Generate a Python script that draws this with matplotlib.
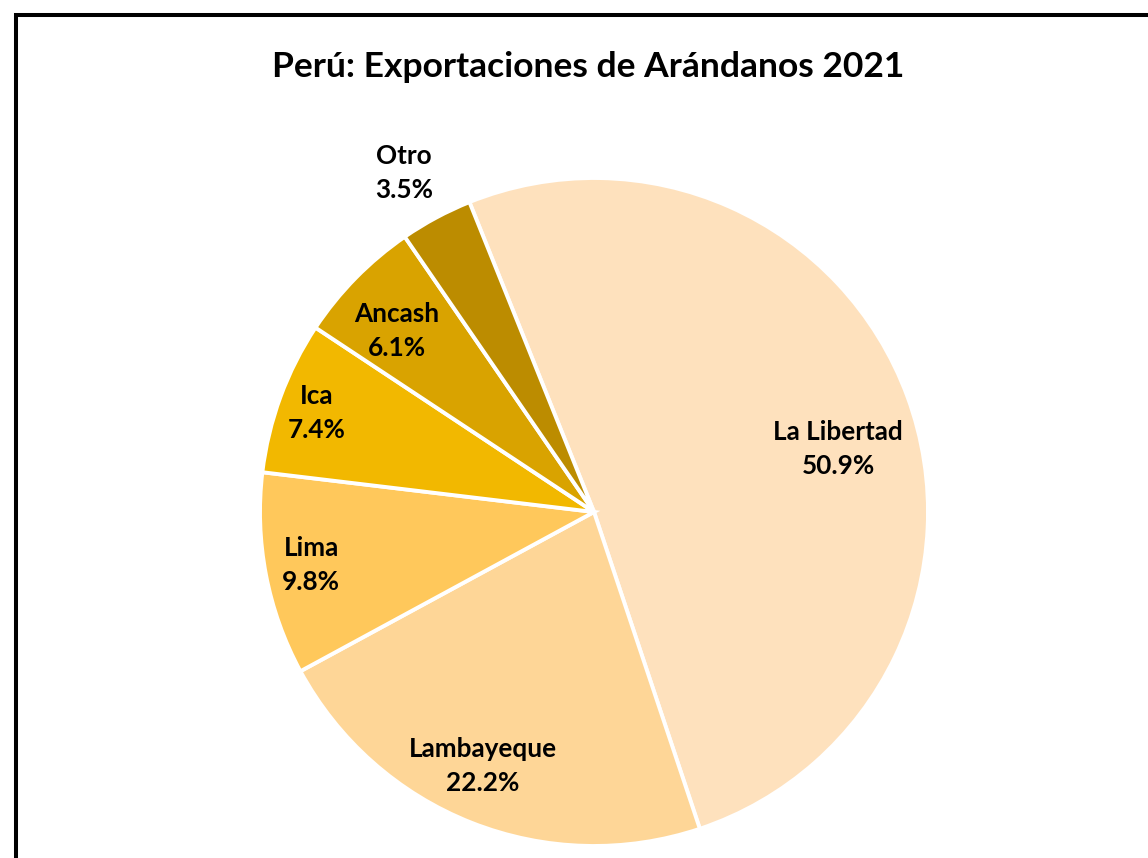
import matplotlib.pyplot as plt
from matplotlib.patches import Rectangle

plt.rcParams['font.family'] = ['Lato', 'DejaVu Sans']

regiones = ['La Libertad', 'Lambayeque', 'Lima', 'Ica', 'Ancash', 'Otro']
porcentajes = [50.9, 22.2, 9.8, 7.4, 6.1, 3.5]
colores = ['#FEE1BD', '#FED697', '#FFC85B', '#F2B800', '#D9A300', '#BC8C00']

# posicion de las etiquetas (en radios, respecto al centro)
pos_etiq = [(0.731, 0.189), (-0.332, -0.760), (-0.847, -0.159),
            (-0.829, 0.296), (-0.590, 0.542), (-0.569, 1.015)]

W, H = 1148, 858
fig = plt.figure(figsize=(W / 100, H / 100), dpi=100)

# pie: centro (594, 512) px, radio 334 px
cx, cy, r = 594, 512, 334
ax = fig.add_axes([(cx - r) / W, (H - cy - r) / H, 2 * r / W, 2 * r / H])
ax.pie(porcentajes, colors=colores, startangle=111.9, counterclock=False,
       wedgeprops=dict(edgecolor='white', linewidth=2.8))
ax.set_xlim(-1, 1)
ax.set_ylim(-1, 1)
ax.set_aspect('auto')
ax.axis('off')

for reg, p, (x, y) in zip(regiones, porcentajes, pos_etiq):
    ax.text(x, y, '%s\n%.1f%%' % (reg, p), ha='center', va='center',
            fontsize=18.8, fontweight='bold', linespacing=1.5)

fig.text(588 / W, 1 - 67 / H, 'Perú: Exportaciones de Arándanos 2021',
         ha='center', va='center', fontsize=25.5, fontweight='bold')

# marco del grafico
marco = Rectangle((16 / W, -0.1), 1.2, (H - 15) / H + 0.1, transform=fig.transFigure,
                  fill=False, edgecolor='black', linewidth=2.9, clip_on=False)
fig.patches.append(marco)

fig.savefig('out.png', dpi=100)
